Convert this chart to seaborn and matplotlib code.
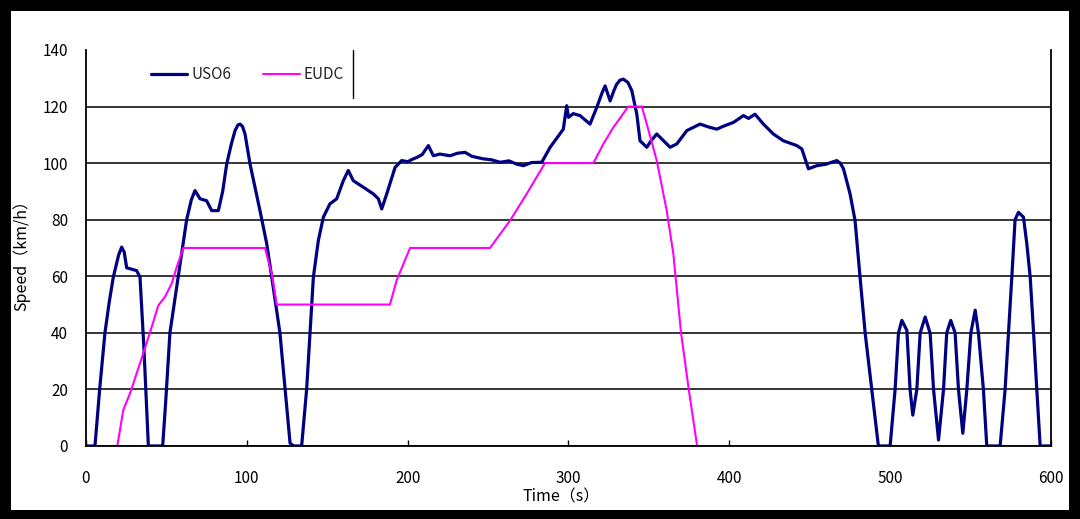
import matplotlib
matplotlib.use('Agg')
import matplotlib.pyplot as plt
import numpy as np
import pandas as pd
import seaborn as sns

# US06 cycle speed
uso6_t = [0, 5.6, 8.5, 11.8, 14.5, 17, 20.3, 22.2, 23.8, 25.3, 28.5, 31.5, 33.6,
          36, 38.8, 47.7, 49.5, 52.2, 57.4,
          62.6, 65.5, 67.8, 70.9, 75, 78.2, 82.3, 85, 87.5, 90.5, 92.7, 94.5, 95.8,
          97.3, 98.9, 102, 108.2,
          112.4, 115.5, 120.6, 123.8, 126.9, 129, 134.1, 137.2, 139.3, 141.4,
          144.5, 147.6, 151.7, 155.9, 160, 163.1, 166.2, 172.4, 178.7, 181.8,
          183.9, 187, 192.2, 196.3, 200, 203.5, 205.7, 209, 212.9, 216, 220,
          226.4, 231, 235.7, 240, 247.1, 252, 257.5, 263, 268, 272, 277, 283.4,
          288.6, 296.8, 298.9, 300, 303, 307.2, 313.4, 317.6, 321, 322.8, 325.9,
          328.5, 330, 332, 334.1, 337, 339.4, 342.5, 344.5, 348.7, 351.5, 354.9,
          361.1, 363.2, 367.4, 373.6,
          381.8, 387, 392.2, 397, 402.6, 408.8, 412, 416, 421.2, 427.4, 433.6,
          438, 442, 445.1, 449.2, 454.4, 460, 466.8, 469, 471, 475.1, 478.2, 481.3,
          484.5, 488.6, 492.7, 500, 503.1, 505.2, 507.3, 510.4, 512.4, 514.1,
          516.6, 518.7, 521.8, 524.9, 527, 530.1, 533.2, 535.2, 537.7, 540.4,
          542.5, 545.2, 547.7, 550.2, 552.9, 554.9, 558, 560.1, 568.4, 571.5,
          573.6, 575.7, 577.7, 579.8, 582.9, 585, 587.1, 589.2, 591.2, 593.3, 600]
uso6_v = [0, 0, 20, 40, 51, 59.7, 67.5, 70.3, 68.5, 63, 62.5, 62, 59.7,
          35, 0, 0, 15, 40, 60,
          80, 87, 90.3, 87.4, 86.7, 83.2, 83.2, 90, 99.7, 107, 111.5, 113.5, 113.8,
          113, 110.3, 99.7, 83.2,
          71.5, 59.7, 40, 20, 1, 0, 0, 20, 40, 59.7,
          72.7, 80.9, 85.6, 87.4, 93.8, 97.4, 93.8, 91.5, 89.1, 87.4,
          83.8, 89.1, 98.5, 100.9, 100.5, 101.5, 102, 103, 106.2, 102.6, 103.2,
          102.6, 103.5, 103.8, 102.4, 101.5, 101.2, 100.3, 100.8, 99.6, 99.1, 100.2, 100.3,
          105.6, 112, 120.3, 116.2, 117.5, 116.8, 113.8, 119.7, 125, 127.3, 122,
          126, 127.9, 129.3, 129.7, 128.5, 125.6, 117.3, 107.9, 105.6, 108, 110.3,
          106.8, 105.6, 106.8, 111.5,
          113.8, 112.8, 112, 113.2, 114.4, 116.8, 115.8, 117.3, 113.8, 110.3, 107.9,
          107, 106.2, 105, 98, 99.1, 99.6, 100.9, 100, 98, 89.1, 79.7, 59.7,
          39.8, 19.8, 0, 0, 20, 40, 44.4, 40.9, 20, 10.9,
          20, 40, 45.6, 39.8, 20, 2.1, 20, 40, 44.4, 40,
          20, 4.5, 20, 40, 48, 40, 20, 0, 0, 20,
          40, 60, 80, 82.6, 80.9, 71.5, 59.7, 40, 20, 0, 0]

# EUDC cycle speed
eudc_t = [19.5, 23.2, 27.4, 35.6, 40.9, 45, 49.1, 53.3, 56.4, 60.5, 111.3, 115.5,
          118.6, 189, 193.2, 201.5, 251.2, 263.7, 274, 285.4, 315.5, 321.7,
          327.9, 337.2, 345.6, 348.7, 354.9, 361.1, 365.2, 370, 374.8, 380]
eudc_v = [0, 12.7, 18.6, 32.7, 42.1, 49.7, 52.7, 57.4, 63.2, 70, 70, 60.9,
          50, 50, 58.6, 70, 70, 79.7, 89.1, 100, 100, 106.8,
          112.6, 120, 120, 113.8, 100.9, 83.2, 68, 40, 20, 0]

x_ticks = [0, 100, 200, 300, 400, 500, 600]
y_ticks = [0, 20, 40, 60, 80, 100, 120, 140]

sns.set_theme(style='white')
plt.rcParams['font.family'] = ['Noto Sans CJK SC', 'DejaVu Sans']

fig = plt.figure(figsize=(10.8, 5.19), dpi=100, facecolor='black')
fig.add_artist(plt.Rectangle((11 / 1080, 9 / 519), 1058 / 1080, 499 / 519,
                             transform=fig.transFigure, facecolor='white',
                             edgecolor='none', zorder=0))
ax = fig.add_axes([0.0796, 0.1407, 0.8935, 0.763])
ax.set_facecolor('white')

sns.lineplot(x=uso6_t, y=uso6_v, ax=ax, color='#000080', linewidth=2.3,
             sort=False, estimator=None, label='USO6')
sns.lineplot(x=eudc_t, y=eudc_v, ax=ax, color='#FF00FF', linewidth=1.5,
             sort=False, estimator=None, label='EUDC')

ax.set_xlim(0, 600)
ax.set_ylim(0, 140)
ax.set_xticks(x_ticks)
ax.set_yticks(y_ticks)

ax.yaxis.grid(True, color='black', linewidth=1.1)
ax.xaxis.grid(False)
ax.get_ygridlines()[-1].set_visible(False)
ax.set_axisbelow(True)

for side in ['left', 'bottom', 'right']:
    ax.spines[side].set_visible(True)
    ax.spines[side].set_color('black')
    ax.spines[side].set_linewidth(1.3)
    ax.spines[side].set_zorder(5)
ax.spines['top'].set_visible(False)

ax.tick_params(axis='x', direction='in', length=4, width=1, color='black',
               pad=17, labelsize=11, labelcolor='black', bottom=True)
ax.tick_params(axis='y', direction='in', length=0, pad=13,
               labelsize=11, labelcolor='black', left=True)

ax.set_xlabel('Time（s）', fontsize=11.5, color='black')
ax.set_ylabel('Speed（km/h）', fontsize=11.5, color='black')
ax.xaxis.set_label_coords(0.492, -0.108)
ax.yaxis.set_label_coords(-0.058, 0.49)

ax.legend(loc='center left', bbox_to_anchor=(0.059, 0.937), ncol=2,
          frameon=False, borderpad=0, handlelength=2.4, handletextpad=0.25,
          columnspacing=2.1, fontsize=11)
ax.plot([0.2767, 0.2767], [0.879, 1.0], transform=ax.transAxes,
        color='black', linewidth=1, clip_on=False)

fig.savefig('out.png', dpi=100, facecolor=fig.get_facecolor())
